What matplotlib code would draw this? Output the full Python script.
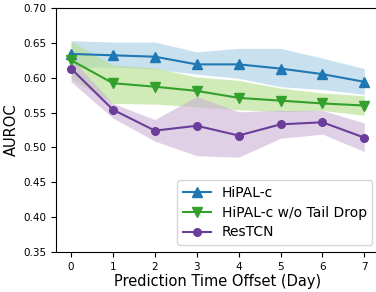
import numpy as np
import matplotlib
matplotlib.use("Agg")
import matplotlib.pyplot as plt

# Datos
days = [0, 1, 2, 3, 4, 5, 6, 7]

hipal = [0.634, 0.632, 0.630, 0.619, 0.619, 0.613, 0.605, 0.594]
hipal_hi = [0.653, 0.651, 0.651, 0.637, 0.642, 0.642, 0.628, 0.613]
hipal_lo = [0.615, 0.615, 0.612, 0.605, 0.599, 0.587, 0.583, 0.576]

notail = [0.625, 0.592, 0.587, 0.581, 0.571, 0.567, 0.563, 0.560]
notail_hi = [0.652, 0.618, 0.614, 0.601, 0.596, 0.585, 0.578, 0.574]
notail_lo = [0.598, 0.563, 0.562, 0.558, 0.554, 0.551, 0.553, 0.546]

restcn = [0.613, 0.554, 0.524, 0.531, 0.517, 0.533, 0.536, 0.514]
restcn_hi = [0.628, 0.563, 0.540, 0.573, 0.551, 0.553, 0.553, 0.535]
restcn_lo = [0.594, 0.542, 0.509, 0.488, 0.486, 0.513, 0.519, 0.494]

yticks = [0.35, 0.40, 0.45, 0.50, 0.55, 0.60, 0.65, 0.70]

fig = plt.figure(figsize=(3.76, 2.92), dpi=100)
ax = fig.add_axes([0.149, 0.137, 0.86, 0.836])

#Bandas de variacion
ax.fill_between(days, hipal_lo, hipal_hi, color="#a6cee3", alpha=0.6, linewidth=0)
ax.fill_between(days, notail_lo, notail_hi, color="#b2df8a", alpha=0.6, linewidth=0)
ax.fill_between(days, restcn_lo, restcn_hi, color="#cab2d6", alpha=0.6, linewidth=0)

#Curvas principales
ax.plot(days, hipal, color="#1f78b4", marker="^", markersize=6.5, linewidth=1.5, label="HiPAL-c")
ax.plot(days, notail, color="#33a02c", marker="v", markersize=6.5, linewidth=1.5, label="HiPAL-c w/o Tail Drop")
ax.plot(days, restcn, color="#6a3d9a", marker="o", markersize=5.5, linewidth=1.5, label="ResTCN")

ax.set_xlim(-0.36, 7.36)
ax.set_ylim(0.35, 0.70)
ax.set_xticks(days)
ax.set_yticks(yticks)
ax.set_yticklabels([f"{v:.2f}" for v in yticks])
ax.tick_params(labelsize=7.5)
ax.set_xlabel("Prediction Time Offset (Day)", fontsize=10.5, labelpad=2)
ax.set_ylabel("AUROC", fontsize=10.5, labelpad=3)

ax.legend(loc="lower right", fontsize=10, handlelength=2.0, labelspacing=0.42,
          borderaxespad=0.5)

fig.savefig("out.png", dpi=100)
